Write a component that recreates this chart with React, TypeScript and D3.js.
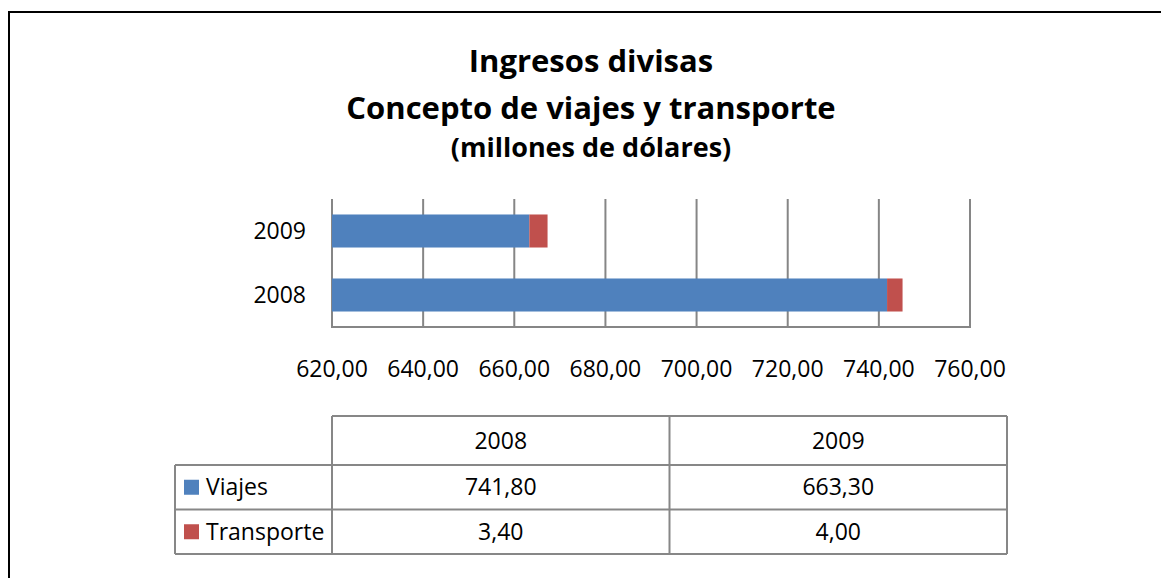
import React, { useEffect, useRef } from 'react';
import * as d3 from 'd3';

const years = ['2008', '2009'];
const seriesNames = ['Viajes', 'Transporte'];
const viajes = [741.8, 663.3];
const transporte = [3.4, 4.0];
const xTicks = [620, 640, 660, 680, 700, 720, 740, 760];
const colors = ['#4F81BD', '#C0504D'];
const titleLines = ['Ingresos divisas', 'Concepto de viajes y transporte'];
const subtitle = '(millones de dólares)';

const W = 1161;
const H = 578;
const FONT = "'Open Sans', sans-serif";

const fmt = (v: number) => v.toFixed(2).replace('.', ',');

export default function App() {
  const ref = useRef<SVGSVGElement>(null);

  useEffect(() => {
    if (!ref.current) return;
    const svg = d3.select(ref.current);
    svg.selectAll('*').remove();

    svg.append('rect').attr('width', W).attr('height', H).attr('fill', '#fff');

    // outer frame
    svg.append('rect')
      .attr('x', 9).attr('y', 12)
      .attr('width', 1164).attr('height', 600)
      .attr('fill', 'none')
      .attr('stroke', '#000')
      .attr('stroke-width', 2);

    // titles
    const cx = 591;
    svg.selectAll('.title')
      .data(titleLines)
      .join('text')
      .attr('class', 'title')
      .attr('x', cx)
      .attr('y', (_, i) => 71.5 + i * 47)
      .attr('text-anchor', 'middle')
      .attr('font-family', FONT)
      .attr('font-weight', 700)
      .attr('font-size', '31px')
      .attr('fill', '#000')
      .text((d) => d);
    svg.append('text')
      .attr('x', cx).attr('y', 157)
      .attr('text-anchor', 'middle')
      .attr('font-family', FONT)
      .attr('font-weight', 700)
      .attr('font-size', '27px')
      .attr('fill', '#000')
      .text(subtitle);

    // plot
    const margin = { top: 199, left: 332, right: 970, bottom: 327 };
    const x = d3.scaleLinear().domain([620, 760]).range([margin.left, margin.right]).clamp(true);
    const y = d3.scaleBand()
      .domain(['2009', '2008'])
      .range([margin.top, margin.bottom])
      .paddingInner(0.484)
      .paddingOuter(0.242);

    const rows = years.map((yr, i) => ({ year: yr, Viajes: viajes[i], Transporte: transporte[i] }));
    const stacked = d3.stack<any>().keys(seriesNames)(rows);

    const g = svg.append('g');

    // gridlines
    g.selectAll('.grid')
      .data(xTicks)
      .join('line')
      .attr('class', 'grid')
      .attr('x1', (d) => x(d)).attr('x2', (d) => x(d))
      .attr('y1', margin.top).attr('y2', margin.bottom)
      .attr('stroke', '#868686')
      .attr('stroke-width', 2);

    // axis baseline
    g.append('line')
      .attr('x1', margin.left - 1).attr('x2', margin.right + 1)
      .attr('y1', margin.bottom).attr('y2', margin.bottom)
      .attr('stroke', '#868686')
      .attr('stroke-width', 2);

    // bars
    stacked.forEach((layer, si) => {
      g.selectAll(`.bar-${si}`)
        .data(layer)
        .join('rect')
        .attr('class', `bar-${si}`)
        .attr('x', (d) => x(d[0]))
        .attr('y', (d: any) => y(d.data.year)!)
        .attr('width', (d) => x(d[1]) - x(d[0]))
        .attr('height', y.bandwidth())
        .attr('fill', colors[si]);
    });

    // y labels
    g.selectAll('.ylab')
      .data(years)
      .join('text')
      .attr('class', 'ylab')
      .attr('x', 306)
      .attr('y', (d) => y(d)! + y.bandwidth() / 2)
      .attr('dy', '0.35em')
      .attr('text-anchor', 'end')
      .attr('font-family', FONT)
      .attr('font-size', '23px')
      .attr('fill', '#000')
      .text((d) => d);

    // x labels
    g.selectAll('.xlab')
      .data(xTicks)
      .join('text')
      .attr('class', 'xlab')
      .attr('x', (d) => x(d))
      .attr('y', 377)
      .attr('text-anchor', 'middle')
      .attr('font-family', FONT)
      .attr('font-size', '23px')
      .attr('fill', '#000')
      .text((d) => fmt(d));

    // data table
    const tLeft = 175;
    const colX = d3.scaleBand().domain(years).range([332, 1007]);
    const rowY = [416, 465, 509.5, 554];
    const lineColor = '#878787';
    const t = svg.append('g');

    // horizontal lines
    t.append('line').attr('x1', 332).attr('x2', 1007).attr('y1', rowY[0]).attr('y2', rowY[0]);
    [1, 2, 3].forEach((r) => {
      t.append('line').attr('x1', tLeft).attr('x2', 1007).attr('y1', rowY[r]).attr('y2', rowY[r]);
    });
    // vertical lines
    t.append('line').attr('x1', tLeft).attr('x2', tLeft).attr('y1', rowY[1]).attr('y2', rowY[3]);
    [332, ...years.map((yr) => colX(yr)! + colX.bandwidth())].forEach((vx) => {
      t.append('line').attr('x1', vx).attr('x2', vx).attr('y1', rowY[0]).attr('y2', rowY[3]);
    });
    t.selectAll('line').attr('stroke', lineColor).attr('stroke-width', 2);

    const txt = (sel: any) => sel
      .attr('font-family', FONT)
      .attr('font-size', '23px')
      .attr('fill', '#000')
      .attr('dy', '0.35em');

    // header
    years.forEach((yr) => {
      t.append('text')
        .attr('x', colX(yr)! + colX.bandwidth() / 2)
        .attr('y', (rowY[0] + rowY[1]) / 2)
        .attr('text-anchor', 'middle')
        .call(txt)
        .text(yr);
    });

    const seriesVals = [viajes, transporte];
    seriesNames.forEach((name, si) => {
      const cy = (rowY[si + 1] + rowY[si + 2]) / 2;
      t.append('rect')
        .attr('x', 184).attr('y', cy - 7.5)
        .attr('width', 15).attr('height', 15)
        .attr('fill', colors[si]);
      t.append('text')
        .attr('x', 206)
        .attr('y', cy)
        .call(txt)
        .text(name);
      years.forEach((yr, yi) => {
        t.append('text')
          .attr('x', colX(yr)! + colX.bandwidth() / 2)
          .attr('y', cy)
          .attr('text-anchor', 'middle')
          .call(txt)
          .text(fmt(seriesVals[si][yi]));
      });
    });
  }, []);

  return (
    <svg
      ref={ref}
      width={W}
      height={H}
      style={{ position: 'absolute', left: 0, top: 0, display: 'block' }}
    />
  );
}
